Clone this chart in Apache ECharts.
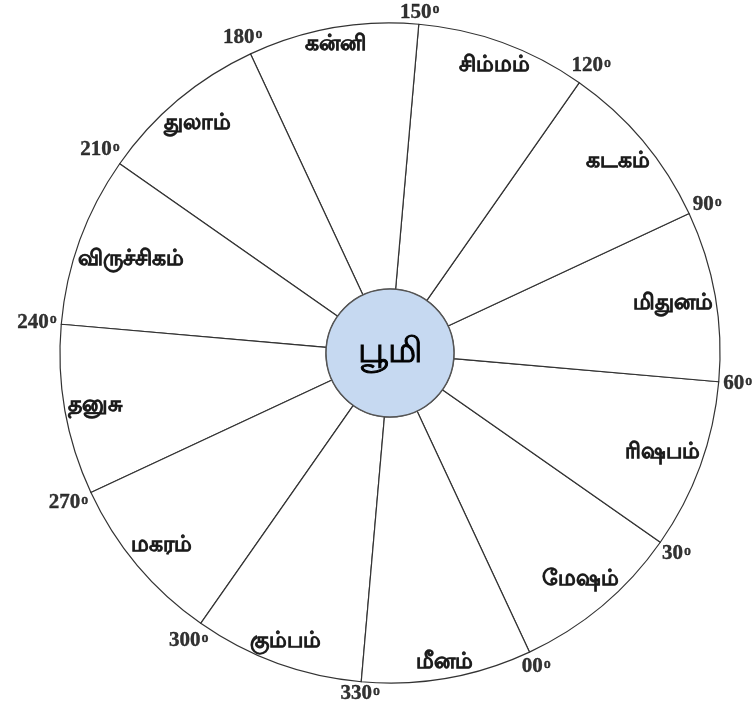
<!DOCTYPE html>
<html><head><meta charset="utf-8">
<script src="https://cdn.jsdelivr.net/npm/echarts@6/dist/echarts.min.js"></script>
<style>html,body{margin:0;padding:0;background:#fff}#c{width:756px;height:706px}</style>
</head><body><div id="c"></div>
<script>
// Zodiac signs in counter-clockwise order starting at 0°
const signs = ['மேஷம்','ரிஷபம்','மிதுனம்','கடகம்','சிம்மம்','கன்னி','துலாம்','விருச்சிகம்','தனுசு','மகரம்','கும்பம்','மீனம்'];
const signSpans = [30,30,30,30,30,30,30,30,30,30,30,30];
const degreeMarks = [0,30,60,90,120,150,180,210,240,270,300,330];
const degreeLabels = ['00','30','60','90','120','150','180','210','240','270','300','330'];
const centerLabel = 'பூமி';

const CX = 390, CY = 353, R_OUT = 330, R_IN = 64;
const START = 295;
const NAME_FONT = 22, DEG_FONT = 21, SUP_FONT = 14;
const FAMILY = '"Liberation Serif", serif';

const ctx = document.createElement('canvas').getContext('2d');
function textW(t, size) { ctx.font = 'bold ' + size + 'px ' + FAMILY; return ctx.measureText(t).width; }
function dirOf(deg) { const a = (START + deg) * Math.PI / 180; return [Math.abs(Math.cos(a)), Math.abs(Math.sin(a))]; }
// radius of a label box centre so that its outer corner sits at distance D (inside the ring)
function insideR(deg, w, h, D) {
  const [c, s] = dirOf(deg); const B = c * w + s * h, C = (w * w + h * h) / 4 - D * D;
  return (-B + Math.sqrt(B * B - 4 * C)) / 2;
}
// radius of a label box centre so that its inner corner sits at distance D (outside the ring)
function outsideR(deg, w, h, D) {
  const [c, s] = dirOf(deg); const B = c * w + s * h, C = (w * w + h * h) / 4 - D * D;
  return (B + Math.sqrt(B * B - 4 * C)) / 2;
}

const signData = signs.map((s, i) => ({ name: s, value: signSpans[i] }));
let acc = 0;
const signMid = signSpans.map(v => { const m = acc + v / 2; acc += v; return m; });
const namePoints = signs.map((s, i) => [insideR(signMid[i], textW(s, NAME_FONT), 17, 328), signMid[i]]);
const degPoints = degreeMarks.map((d, i) => {
  const w = textW(degreeLabels[i], DEG_FONT) + textW('o', SUP_FONT) + 1;
  return [outsideR(d, w, 14, 334), d];
});

const chart = echarts.init(document.getElementById('c'), null, { renderer: 'canvas' });
chart.setOption({
  backgroundColor: '#ffffff',
  animation: false,
  polar: { center: [CX, CY], radius: 380 },
  angleAxis: { type: 'value', min: 0, max: 360, startAngle: START, clockwise: false, show: false },
  radiusAxis: { type: 'value', min: 0, max: 380, show: false },
  series: [
    {
      type: 'pie', silent: true, center: [CX, CY], radius: [R_IN, R_OUT],
      startAngle: START, clockwise: false,
      label: { show: false }, labelLine: { show: false },
      itemStyle: { color: '#ffffff', borderColor: '#333', borderWidth: 1.2 },
      emphasis: { scale: false },
      data: signData
    },
    {
      type: 'pie', silent: true, center: [CX, CY], radius: [0, R_IN],
      label: { show: true, position: 'center', color: '#000', fontSize: 35,
               textBorderColor: '#000', textBorderWidth: 1,
               fontFamily: FAMILY, formatter: '{b}' },
      labelLine: { show: false },
      itemStyle: { color: '#c6d9f1', borderColor: '#555', borderWidth: 1.5 },
      emphasis: { scale: false },
      data: [{ name: centerLabel, value: 1 }], z: 4
    },
    {
      type: 'scatter', coordinateSystem: 'polar', silent: true, symbolSize: 0,
      data: namePoints,
      label: {
        show: true, position: 'inside', color: '#111', fontSize: NAME_FONT, fontWeight: 'bold',
        textBorderColor: '#111', textBorderWidth: 0.6, fontFamily: FAMILY,
        formatter: p => signs[p.dataIndex]
      },
      z: 5
    },
    {
      type: 'scatter', coordinateSystem: 'polar', silent: true, symbolSize: 0,
      data: degPoints,
      label: {
        show: true, position: 'inside',
        formatter: p => '{n|' + degreeLabels[p.dataIndex] + '}{s|o}',
        rich: {
          n: { fontSize: DEG_FONT, fontWeight: 'bold', fontFamily: FAMILY, color: '#000',
               textBorderColor: '#000', textBorderWidth: 0.4, verticalAlign: 'bottom' },
          s: { fontSize: SUP_FONT, fontWeight: 'bold', fontFamily: FAMILY, color: '#000',
               textBorderColor: '#000', textBorderWidth: 0.3, verticalAlign: 'bottom', padding: [0, 0, 6, 1] }
        }
      },
      z: 5
    }
  ]
});
</script></body></html>
